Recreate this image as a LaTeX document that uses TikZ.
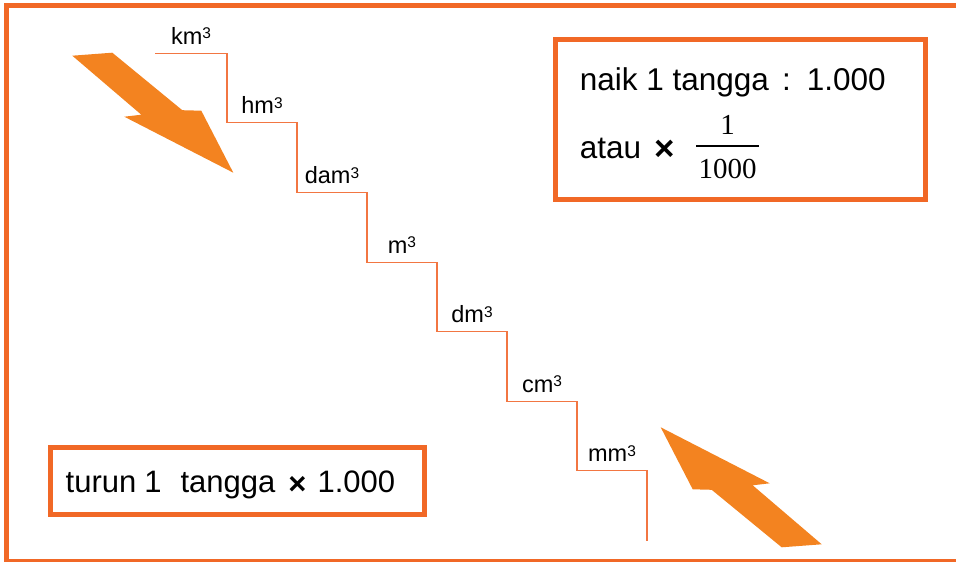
\documentclass[tikz,border=0pt]{standalone}
\usepackage{fontspec}
\setmainfont{Liberation Sans}
\newfontfamily\timesfont{Liberation Serif}
\usepackage{tikz}
\usetikzlibrary{positioning}

\definecolor{frameorange}{RGB}{241,104,38}
\definecolor{arroworange}{RGB}{243,131,32}
\definecolor{stairorange}{RGB}{242,118,66}

% raised 3 for the volume units
\newcommand{\cube}{\raisebox{5.5pt}{\fontsize{15.5}{15.5}\selectfont 3}}
% heavy times sign, sitting low on the line
\newcommand{\kali}{\raisebox{-2pt}{\bfseries ×}}

\begin{document}
\begin{tikzpicture}[x=1pt, y=-1pt]
	\tikzset{
		frameline/.style={draw=frameorange, line width=5pt},
		infobox/.style={draw=frameorange, line width=5pt, inner sep=0pt},
		stair/.style={draw=stairorange, line width=1.1pt},
		unit/.style={font=\fontsize{23.5}{28}\selectfont, inner sep=0pt, anchor=base},
		rule/.style={font=\fontsize{31.5}{35}\selectfont, inner sep=0pt, anchor=base west},
		fracpart/.style={font=\timesfont\fontsize{29}{33}\selectfont, inner sep=0pt, anchor=base},
		bigarrow/.pic={
			\fill[arroworange] (0,0) -- (-32,-62) -- (-51,-62.5) -- (-121,-120) -- (-161,-117) -- (-92,-58) -- (-109,-56) -- cycle;
		},
	}
	
	\clip (0,0) rectangle (956,562);
	
	% Outer frame (open on the right)
	\draw[frameline] (962,5) -- (6.6,5) -- (6.6,561.5) -- (962,561.5);
	
	% Staircase
	\draw[stair] (155,53.3) \foreach \i in {1,...,7} { -| (157+70*\i, 53.3+69.6*\i) };
	
	% Unit labels on the steps
	\foreach \x/\y/\u [count=\n] in {191/44.3/km, 262/113.9/hm, 332/183.5/dam, 402/253.1/m, 472/322.7/dm, 542/392.3/cm, 612/461.9/mm} {
		\node[unit] (u\n) at (\x,\y) {\u\cube};
	}
	
	% Arrows
	\pic at (233.3,172.7) {bigarrow};
	\pic[rotate=180] at (660.7,427.3) {bigarrow};
	
	% Going up
	\node[infobox, minimum width=370.5pt, minimum height=160pt] (naikbox) at (740.25,119) {};
	\node[rule] (naik) at (579.7,90) {naik 1 tangga\hspace{13pt}:\hspace{16pt}1.000};
	\node[rule] (atau) at (579.7,158.3) {atau};
	\node[rule, font=\fontsize{35}{40}\selectfont] (kali) at (654,158.3) {\kali};
	\node[fracpart] (num) at (727.5,134) {1};
	\node[fracpart] (den) at (727.5,178.3) {1000};
	\draw[line width=1.2pt] (696,146) -- (759,146);
	
	% Going down
	\node[infobox, minimum width=374pt, minimum height=67pt] (turunbox) at (237,481) {};
	\node[rule, font=\fontsize{31}{35}\selectfont] (turun) at (65.5,492.7) {turun\hspace{8pt}1\hspace{19pt}tangga\hspace{13pt}\kali\hspace{11pt}1.000};
\end{tikzpicture}
\end{document}
